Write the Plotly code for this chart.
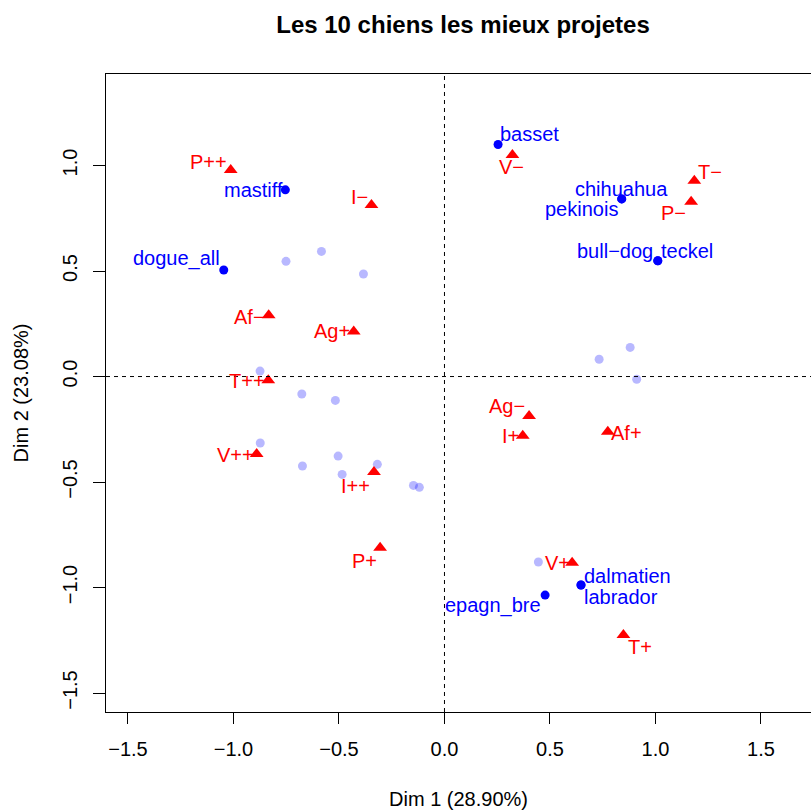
import plotly.graph_objects as go

# Individuals best represented on the first factorial plane (labelled)
dog_names = ["basset", "mastiff", "dogue_all", "chihuahua", "pekinois",
             "bull−dog", "teckel", "dalmatien", "labrador", "epagn_bre"]
dog_dim1 = [0.254, -0.754, -1.046, 0.840, 0.840,
            1.011, 1.011, 0.647, 0.647, 0.477]
dog_dim2 = [1.100, 0.885, 0.505, 0.842, 0.842,
            0.549, 0.549, -0.988, -0.988, -1.036]

# Remaining individuals (drawn faded, without labels)
other_dim1 = [-0.751, -0.583, -0.384, -0.874, -0.676, -0.517, -0.873, -0.504,
              -0.673, -0.318, -0.485, -0.147, -0.119, 0.880, 0.733, 0.911, 0.445]
other_dim2 = [0.546, 0.593, 0.486, 0.026, -0.083, -0.113, -0.315, -0.377,
              -0.424, -0.416, -0.464, -0.516, -0.525, 0.138, 0.082, -0.013, -0.879]

# Categories of the active variables
cat_names = ["P++", "I−", "Af−", "Ag+", "T++", "V−", "T−", "P−",
             "V++", "I++", "P+", "Ag−", "I+", "Af+", "V+", "T+"]
cat_dim1 = [-1.013, -0.346, -0.833, -0.430, -0.835, 0.322, 1.184, 1.169,
            -0.890, -0.334, -0.305, 0.401, 0.371, 0.774, 0.605, 0.848]
cat_dim2 = [0.979, 0.813, 0.291, 0.214, -0.017, 1.050, 0.928, 0.828,
            -0.367, -0.453, -0.811, -0.187, -0.281, -0.262, -0.882, -1.225]

x_ticks = [-1.5, -1.0, -0.5, 0.0, 0.5, 1.0, 1.5]
y_ticks = [-1.5, -1.0, -0.5, 0.0, 0.5, 1.0]

# Label placement (anchor, x offset px, y offset px) to avoid overlaps
dog_label_pos = {
    "basset": ("left", 1, 10), "mastiff": ("right", -1, 0),
    "dogue_all": ("right", -3, 12), "chihuahua": ("center", 0, 10),
    "pekinois": ("right", -3, -10), "bull−dog": ("right", -4, 10),
    "teckel": ("left", 2, 10), "dalmatien": ("left", 2, 9),
    "labrador": ("left", 2, -12), "epagn_bre": ("right", -3, -10),
}
cat_label_pos = {
    "P++": ("right", -3, 8), "I−": ("right", -2, 8), "Af−": ("right", -3, -2),
    "Ag+": ("right", -3, 0), "T++": ("right", -2, -1), "V−": ("center", -1, -12),
    "T−": ("left", 3, 9), "P−": ("right", -4, -11), "V++": ("right", -2, -1),
    "I++": ("right", -3, -14), "P+": ("right", -2, -13), "Ag−": ("right", -3, 10),
    "I+": ("right", -3, 0), "Af+": ("left", 2, -1), "V+": ("right", -1, 0),
    "T+": ("left", 4, -12),
}

FONT = "Liberation Sans, Arial, Helvetica, sans-serif"
BLUE = "#0000FF"
RED = "#FF0000"

fig = go.Figure()

fig.add_trace(go.Scatter(
    x=other_dim1, y=other_dim2, mode="markers",
    marker=dict(symbol="circle", size=9, color="rgba(0,0,255,0.28)"),
    hoverinfo="skip", showlegend=False))

fig.add_trace(go.Scatter(
    x=dog_dim1, y=dog_dim2, mode="markers", text=dog_names,
    marker=dict(symbol="circle", size=9, color=BLUE),
    hovertemplate="%{text}<extra></extra>", showlegend=False))

fig.add_trace(go.Scatter(
    x=cat_dim1, y=cat_dim2, mode="markers", text=cat_names,
    marker=dict(symbol="triangle-up", size=12, color=RED),
    hovertemplate="%{text}<extra></extra>", showlegend=False))

annotations = []
for name, x, y in zip(dog_names, dog_dim1, dog_dim2):
    anchor, dx, dy = dog_label_pos[name]
    annotations.append(dict(x=x, y=y, xref="x", yref="y", text=name,
                            showarrow=False, xanchor=anchor, yanchor="middle",
                            xshift=dx, yshift=dy, borderpad=0,
                            font=dict(family=FONT, size=20, color=BLUE)))
for name, x, y in zip(cat_names, cat_dim1, cat_dim2):
    anchor, dx, dy = cat_label_pos[name]
    annotations.append(dict(x=x, y=y, xref="x", yref="y", text=name,
                            showarrow=False, xanchor=anchor, yanchor="middle",
                            xshift=dx, yshift=dy, borderpad=0,
                            font=dict(family=FONT, size=20, color=RED)))

fig.update_layout(
    width=811, height=810,
    margin=dict(l=106, r=0, t=74, b=98),
    paper_bgcolor="white", plot_bgcolor="white",
    font=dict(family=FONT, size=20, color="black"),
    title=dict(text="<b>Les 10 chiens les mieux projetes</b>",
               x=463 / 811, xref="container", xanchor="center",
               y=1 - 25 / 810, yref="container", yanchor="middle",
               font=dict(family=FONT, size=24, color="black")),
    annotations=annotations,
    shapes=[
        dict(type="line", xref="x", yref="paper", x0=0, x1=0, y0=0, y1=1,
             line=dict(color="black", width=1, dash="4px,4px")),
        dict(type="line", xref="paper", yref="y", x0=0, x1=1, y0=0, y1=0,
             line=dict(color="black", width=1, dash="4px,4px")),
    ],
)

fig.update_xaxes(
    range=[-1.604, 1.737], tickvals=x_ticks,
    ticktext=[f"{v:.1f}".replace("-", "−") for v in x_ticks],
    showgrid=False, zeroline=False,
    showline=True, linecolor="black", linewidth=1, mirror=True,
    ticks="outside", ticklen=11, tickcolor="black", tickwidth=1,
    ticklabelstandoff=8,
    tickfont=dict(family=FONT, size=20, color="black"),
    title=dict(text="Dim 1 (28.90%)", standoff=33,
               font=dict(family=FONT, size=20, color="black")),
)
fig.update_yaxes(
    range=[-1.590, 1.434], tickvals=y_ticks,
    ticktext=[f"{v:.1f}".replace("-", "−") for v in y_ticks],
    tickangle=-90,
    showgrid=False, zeroline=False,
    showline=True, linecolor="black", linewidth=1, mirror=False,
    ticks="outside", ticklen=12, tickcolor="black", tickwidth=1,
    ticklabelstandoff=8,
    tickfont=dict(family=FONT, size=20, color="black"),
    title=dict(text="Dim 2 (23.08%)", standoff=25,
               font=dict(family=FONT, size=20, color="black")),
)

fig.write_html("out.html")
